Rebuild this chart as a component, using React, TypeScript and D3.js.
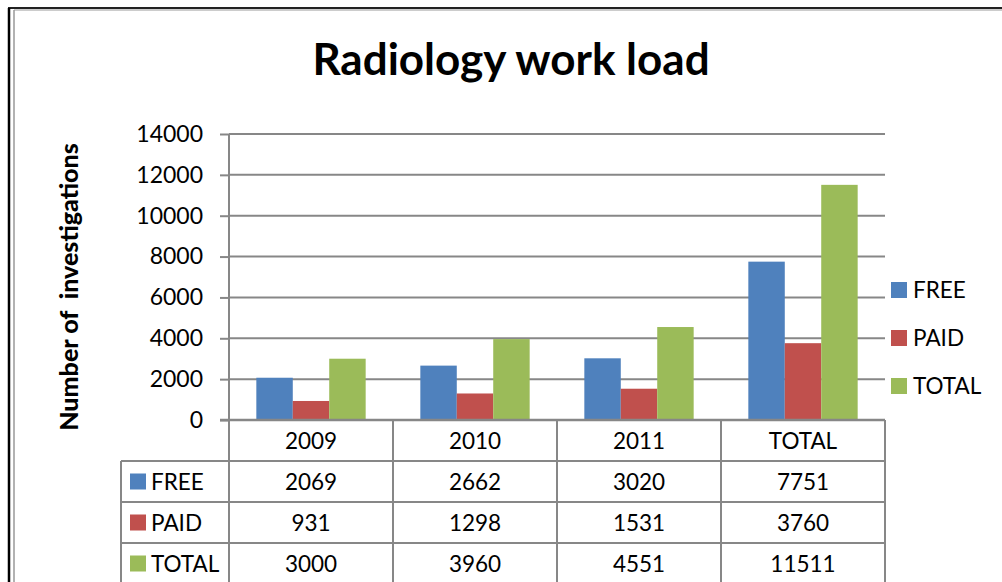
import React, { useEffect, useRef } from 'react'
import * as d3 from 'd3'

const categories = ['2009', '2010', '2011', 'TOTAL']
const seriesNames = ['FREE', 'PAID', 'TOTAL']
const freeValues = [2069, 2662, 3020, 7751]
const paidValues = [931, 1298, 1531, 3760]
const totalValues = [3000, 3960, 4551, 11511]
const yTicks = [0, 2000, 4000, 6000, 8000, 10000, 12000, 14000]
const colors = ['#4f81bd', '#c0504d', '#9bbb59']

const FONT = 'Lato, "Open Sans", sans-serif'

const App = () => {
  const ref = useRef<SVGSVGElement>(null)

  useEffect(() => {
    const svg = d3.select(ref.current)
    svg.selectAll('*').remove()

    const width = 1002
    const height = 582
    const left = 229
    const right = 885
    const top = 134
    const bottom = 420
    const rowH = 41
    const grid = '#878787'

    const series = [freeValues, paidValues, totalValues]

    // Frame
    svg.append('rect').attr('width', width).attr('height', height).attr('fill', '#fff')
    svg.append('line').attr('x1', 8).attr('x2', width).attr('y1', 8).attr('y2', 8)
      .attr('stroke', '#222').attr('stroke-width', 2)
    svg.append('line').attr('x1', 9).attr('x2', 9).attr('y1', 8).attr('y2', height)
      .attr('stroke', '#000').attr('stroke-width', 2.5)
    svg.append('line').attr('x1', 14).attr('x2', width).attr('y1', 10).attr('y2', 10)
      .attr('stroke', '#999').attr('stroke-width', 1)
    svg.append('line').attr('x1', 14).attr('x2', 14).attr('y1', 10).attr('y2', height)
      .attr('stroke', '#999').attr('stroke-width', 1.5)

    // Title
    svg.append('text')
      .attr('x', 511).attr('y', 75)
      .attr('text-anchor', 'middle')
      .attr('font-family', FONT).attr('font-weight', 'bold').attr('font-size', 44)
      .text('Radiology work load')

    const x0 = d3.scaleBand().domain(categories).range([left, right])
    const x1 = d3.scaleBand().domain(seriesNames).range([0, x0.bandwidth()]).paddingOuter(0.75).paddingInner(0)
    const y = d3.scaleLinear().domain([0, 14000]).range([bottom, top])

    // Gridlines and y axis
    const yAxis = svg.append('g')
      .attr('transform', `translate(${left},0)`)
      .call(d3.axisLeft(y).tickValues(yTicks).tickSize(9).tickPadding(17).tickFormat(d3.format('d')))
    yAxis.select('.domain').remove()
    yAxis.selectAll('line').attr('stroke', grid).attr('stroke-width', 2)
    yAxis.selectAll('text').attr('font-family', FONT).attr('font-size', 23).attr('fill', '#000')

    svg.append('g').selectAll('line')
      .data(yTicks.filter(t => t > 0))
      .join('line')
        .attr('x1', left).attr('x2', right)
        .attr('y1', d => y(d)).attr('y2', d => y(d))
        .attr('stroke', grid).attr('stroke-width', 2)

    // Bars
    svg.append('g').selectAll('g')
      .data(categories)
      .join('g')
        .attr('transform', d => `translate(${x0(d)},0)`)
      .selectAll('rect')
      .data((d, i) => seriesNames.map((s, j) => ({ key: s, j, value: series[j][i] })))
      .join('rect')
        .attr('x', d => x1(d.key)!)
        .attr('y', d => y(d.value))
        .attr('width', x1.bandwidth())
        .attr('height', d => y(0) - y(d.value))
        .attr('fill', d => colors[d.j])

    // Vertical axis line
    svg.append('line').attr('x1', left).attr('x2', left).attr('y1', top).attr('y2', bottom + rowH * 4)
      .attr('stroke', grid).attr('stroke-width', 2)

    // Data table
    const table = svg.append('g')
    const tableTop = bottom
    const tableLeft = 121
    // horizontal lines
    table.append('line').attr('x1', left - 9).attr('x2', right).attr('y1', tableTop).attr('y2', tableTop)
      .attr('stroke', grid).attr('stroke-width', 2.5)
    for (let r = 1; r <= 4; r++) {
      table.append('line')
        .attr('x1', tableLeft).attr('x2', right)
        .attr('y1', tableTop + r * rowH).attr('y2', tableTop + r * rowH)
        .attr('stroke', grid).attr('stroke-width', 2)
    }
    // vertical lines
    categories.forEach(c => {
      const xr = x0(c)! + x0.bandwidth()
      table.append('line').attr('x1', xr).attr('x2', xr).attr('y1', tableTop).attr('y2', height)
        .attr('stroke', grid).attr('stroke-width', 2)
    })
    table.append('line').attr('x1', tableLeft).attr('x2', tableLeft).attr('y1', tableTop + rowH).attr('y2', height)
      .attr('stroke', grid).attr('stroke-width', 2)

    // header row
    table.selectAll('.hdr')
      .data(categories)
      .join('text')
        .attr('class', 'hdr')
        .attr('x', d => x0(d)! + x0.bandwidth() / 2)
        .attr('y', tableTop + rowH / 2)
        .attr('dy', '0.36em')
        .attr('text-anchor', 'middle')
        .attr('font-family', FONT).attr('font-size', 22.5)
        .text(d => d)

    seriesNames.forEach((s, j) => {
      const cy = tableTop + rowH * (j + 1) + rowH / 2
      table.append('rect').attr('x', 130).attr('y', cy - 8).attr('width', 16).attr('height', 16).attr('fill', colors[j])
      table.append('text').attr('x', 151).attr('y', cy).attr('dy', '0.36em')
        .attr('font-family', FONT).attr('font-size', 22.5).text(s)
      table.append('g').selectAll('text')
        .data(categories)
        .join('text')
          .attr('x', d => x0(d)! + x0.bandwidth() / 2)
          .attr('y', cy)
          .attr('dy', '0.36em')
          .attr('text-anchor', 'middle')
          .attr('font-family', FONT).attr('font-size', 22.5)
          .text((d, i) => series[j][i])
    })

    // Legend
    const legend = svg.append('g').selectAll('g')
      .data(seriesNames)
      .join('g')
        .attr('transform', (d, i) => `translate(891, ${290 + i * 48})`)
    legend.append('rect').attr('y', -8).attr('width', 16).attr('height', 16).attr('fill', (d, i) => colors[i])
    legend.append('text').attr('x', 22).attr('dy', '0.36em')
      .attr('font-family', FONT).attr('font-size', 22.5).text(d => d)

    // Y axis title
    svg.append('text')
      .attr('transform', `translate(78, 287) rotate(-90)`)
      .attr('text-anchor', 'middle')
      .attr('font-family', FONT).attr('font-weight', 900).attr('font-size', 25)
      .attr('xml:space', 'preserve')
      .style('white-space', 'pre')
      .text('Number of  investigations')
  })

  return (
    <svg ref={ref} width={1002} height={582}
      style={{ position: 'absolute', left: 0, top: 0, display: 'block' }} />
  )
}

export default App
